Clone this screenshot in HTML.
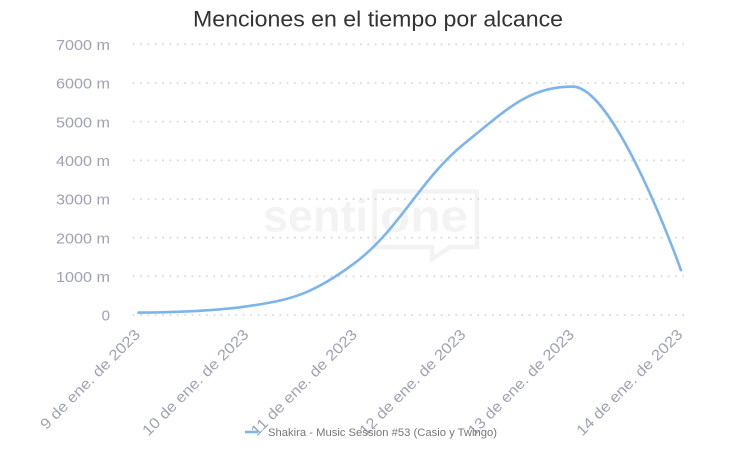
<!DOCTYPE html>
<html><head><meta charset="utf-8"><style>
html,body{margin:0;padding:0;background:#fff;}
svg{display:block;}
</style></head><body>
<svg width="742" height="450" viewBox="0 0 742 450" xmlns="http://www.w3.org/2000/svg">
<rect width="742" height="450" fill="#fff"/>
<!-- watermark -->
<g fill="#f3f3f3" stroke="none">
<text x="263" y="231.7" font-family="Liberation Sans, sans-serif" font-weight="bold" font-size="45" textLength="105" lengthAdjust="spacingAndGlyphs">senti</text>
<text x="380" y="231.7" font-family="Liberation Sans, sans-serif" font-weight="bold" font-size="45" textLength="88" lengthAdjust="spacingAndGlyphs">one</text>
</g>
<path d="M432 247 L374.5 247 L374.5 191.5 L477 191.5 L477 247 L450 247 L432 259 Z" fill="none" stroke="#f3f3f3" stroke-width="4.5" stroke-linejoin="miter"/>
<!-- title -->
<text x="378" y="26.5" text-anchor="middle" font-family="Liberation Sans, sans-serif" font-size="22" fill="#333" textLength="370" lengthAdjust="spacingAndGlyphs">Menciones en el tiempo por alcance</text>
<!-- grid -->
<g stroke="#dadada" stroke-width="1.8" stroke-dasharray="1.8 5.53">
<line x1="132.8" x2="684" y1="44.3" y2="44.3"/>
<line x1="132.8" x2="684" y1="83" y2="83"/>
<line x1="132.8" x2="684" y1="121.6" y2="121.6"/>
<line x1="132.8" x2="684" y1="160.3" y2="160.3"/>
<line x1="132.8" x2="684" y1="199" y2="199"/>
<line x1="132.8" x2="684" y1="237.7" y2="237.7"/>
<line x1="132.8" x2="684" y1="276.3" y2="276.3"/>
<line x1="132.8" x2="684" y1="315" y2="315"/>
</g>
<!-- y labels -->
<g font-family="Liberation Sans, sans-serif" font-size="15" fill="#9fa2b6" text-anchor="end">
<text x="110" y="50" textLength="54" lengthAdjust="spacingAndGlyphs">7000 m</text>
<text x="110" y="88.7" textLength="54" lengthAdjust="spacingAndGlyphs">6000 m</text>
<text x="110" y="127.3" textLength="54" lengthAdjust="spacingAndGlyphs">5000 m</text>
<text x="110" y="166" textLength="54" lengthAdjust="spacingAndGlyphs">4000 m</text>
<text x="110" y="204.7" textLength="54" lengthAdjust="spacingAndGlyphs">3000 m</text>
<text x="110" y="243.4" textLength="54" lengthAdjust="spacingAndGlyphs">2000 m</text>
<text x="110" y="282" textLength="54" lengthAdjust="spacingAndGlyphs">1000 m</text>
<text x="110" y="320.7">0</text>
</g>
<!-- x labels -->
<g font-family="Liberation Sans, sans-serif" font-size="15" fill="#9fa2b6" text-anchor="end">
<text transform="translate(141,335.5) rotate(-45)" textLength="134" lengthAdjust="spacingAndGlyphs">9 de ene. de 2023</text>
<text transform="translate(249.5,335.5) rotate(-45)" textLength="143" lengthAdjust="spacingAndGlyphs">10 de ene. de 2023</text>
<text transform="translate(358,335.5) rotate(-45)" textLength="143" lengthAdjust="spacingAndGlyphs">11 de ene. de 2023</text>
<text transform="translate(466.5,335.5) rotate(-45)" textLength="143" lengthAdjust="spacingAndGlyphs">12 de ene. de 2023</text>
<text transform="translate(575,335.5) rotate(-45)" textLength="143" lengthAdjust="spacingAndGlyphs">13 de ene. de 2023</text>
<text transform="translate(683.5,335.5) rotate(-45)" textLength="143" lengthAdjust="spacingAndGlyphs">14 de ene. de 2023</text>
</g>
<!-- series -->
<path d="M138.5 312.6 C138.5 312.6,203.6 312.6,247 306.3 C290.4 300,312.1 294.9,355.5 262.4 C398.9 229.9,420.6 179,464 143.9 C507.4 108.7,529.1 86.6,572.5 86.6 C615.9 86.6,681 270.2,681 270.2" fill="none" stroke="#7cb5ec" stroke-width="2.6" stroke-linecap="round" stroke-linejoin="round"/>
<!-- legend -->
<line x1="245" x2="258" y1="432" y2="432" stroke="#7cb5ec" stroke-width="2.6"/>
<text x="268" y="436" font-family="Liberation Sans, sans-serif" font-size="11" fill="#777" textLength="229" lengthAdjust="spacingAndGlyphs">Shakira - Music Session #53 (Casio y Twingo)</text>
</svg>
</body></html>
